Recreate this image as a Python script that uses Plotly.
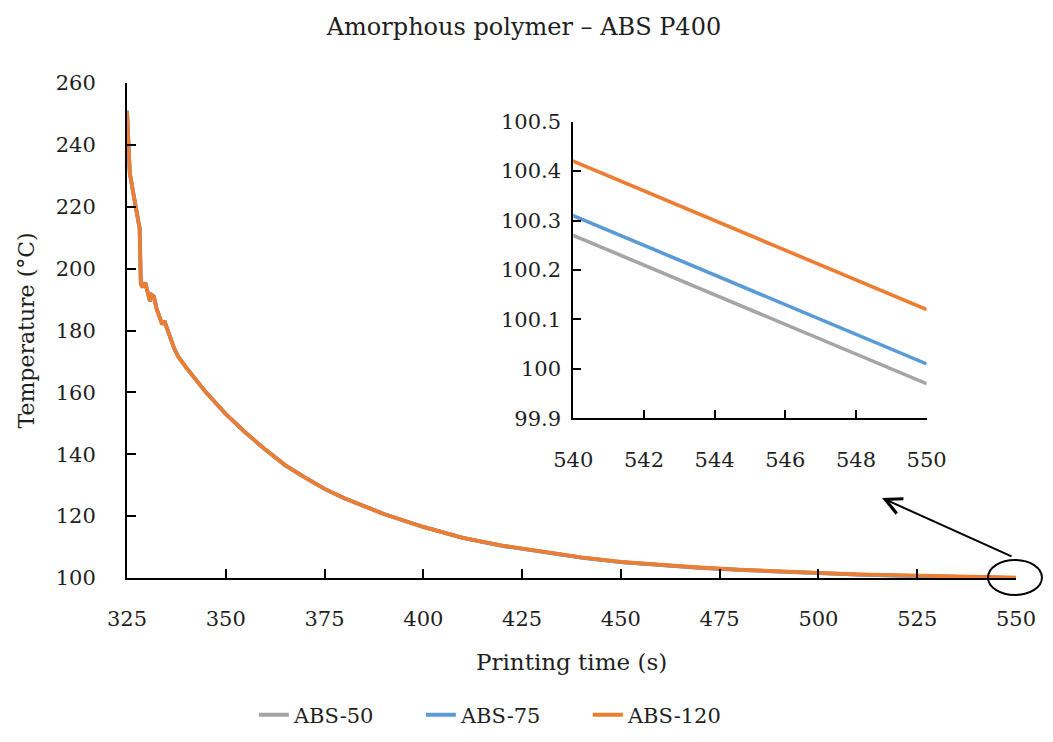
import plotly.graph_objects as go

# Printing time (s)
time_s = [325.0, 325.3, 325.7, 326.5, 327.5, 328.2, 328.5, 329.0, 329.6, 330.2,
          330.8, 331.3, 331.8, 332.5, 333.3, 333.9, 334.5, 335.0, 336.0, 337.0,
          338.0, 340.0, 342.0, 345.0, 350.0, 355.0, 360.0, 365.0, 370.0, 375.0,
          380.0, 390.0, 400.0, 410.0, 420.0, 430.0, 440.0, 450.0, 460.0, 470.0,
          480.0, 490.0, 500.0, 510.0, 520.0, 530.0, 540.0, 545.0, 550.0]

# Temperatures (°C)
abs_50 = [251.0, 243.0, 231.0, 225.0, 218.0, 213.0, 195.0, 194.0, 195.5, 192.0,
          189.5, 191.5, 191.0, 187.0, 184.0, 182.0, 183.0, 181.0, 177.5, 174.0,
          171.5, 168.0, 164.7, 160.0, 153.0, 147.0, 141.5, 136.5, 132.5, 128.8,
          125.8, 120.7, 116.5, 113.0, 110.4, 108.4, 106.6, 105.1, 104.1, 103.3,
          102.6, 102.0, 101.5, 101.1, 100.75, 100.5, 100.27, 100.12, 99.97]
abs_75 = [251.0, 243.0, 231.0, 225.0, 218.0, 213.0, 195.0, 194.0, 195.5, 192.0,
          189.5, 191.5, 191.0, 187.0, 184.0, 182.0, 183.0, 181.0, 177.5, 174.0,
          171.5, 168.0, 164.7, 160.0, 153.0, 147.0, 141.5, 136.5, 132.5, 128.8,
          125.8, 120.7, 116.5, 113.0, 110.4, 108.4, 106.6, 105.1, 104.1, 103.3,
          102.6, 102.0, 101.5, 101.1, 100.8, 100.55, 100.31, 100.16, 100.01]
abs_120 = [251.0, 243.0, 231.0, 225.0, 218.0, 213.0, 195.0, 194.0, 195.5, 192.0,
           189.5, 191.5, 191.0, 187.0, 184.0, 182.0, 183.0, 181.0, 177.5, 174.0,
           171.5, 168.0, 164.7, 160.0, 153.0, 147.0, 141.5, 136.5, 132.5, 128.8,
           125.8, 120.7, 116.5, 113.0, 110.5, 108.5, 106.7, 105.2, 104.2, 103.4,
           102.7, 102.1, 101.6, 101.2, 100.9, 100.65, 100.42, 100.27, 100.12]

series_names = ["ABS-50", "ABS-75", "ABS-120"]
series_colors = ["#A5A5A5", "#5B9BD5", "#ED7D31"]
series_values = [abs_50, abs_75, abs_120]

main_x_ticks = [325, 350, 375, 400, 425, 450, 475, 500, 525, 550]
main_y_ticks = [100, 120, 140, 160, 180, 200, 220, 240, 260]
inset_x_ticks = [540, 542, 544, 546, 548, 550]
inset_y_ticks = [99.9, 100.0, 100.1, 100.2, 100.3, 100.4, 100.5]
inset_y_labels = ["99.9", "100", "100.1", "100.2", "100.3", "100.4", "100.5"]

FONT = "DejaVu Serif"
TXT = "#1e1e1e"

fig = go.Figure()
for name, color, vals in zip(series_names, series_colors, series_values):
    fig.add_trace(go.Scatter(x=time_s, y=vals, mode="lines", name=name,
                             line=dict(color=color, width=3.8),
                             xaxis="x", yaxis="y"))
for name, color, vals in zip(series_names, series_colors, series_values):
    fig.add_trace(go.Scatter(x=time_s, y=vals, mode="lines", name=name,
                             line=dict(color=color, width=3.6), showlegend=False,
                             xaxis="x2", yaxis="y2"))

axis_common = dict(showgrid=False, zeroline=False, showline=True,
                   linecolor="black", linewidth=2, ticks="inside",
                   tickcolor="black", tickwidth=2, mirror=False,
                   tickfont=dict(family=FONT, size=21, color=TXT))

fig.update_layout(
    width=1053, height=742,
    margin=dict(l=127, r=37, t=83, b=164, autoexpand=False),
    paper_bgcolor="white", plot_bgcolor="white",
    showlegend=True,
    title=dict(text="Amorphous polymer – ABS P400", x=0.4976, xref="container",
               y=1 - 27 / 742, yref="container", xanchor="center", yanchor="middle",
               font=dict(family=FONT, size=24, color=TXT)),
    xaxis=dict(domain=[0, 1], range=[325, 550], tickvals=main_x_ticks,
               ticklen=9, ticklabelstandoff=21, anchor="y", **axis_common),
    yaxis=dict(domain=[0, 1], range=[100, 260], tickvals=main_y_ticks,
               ticklen=9, ticklabelstandoff=25, anchor="x", **axis_common),
    xaxis2=dict(domain=[0.502, 0.8995], range=[540, 550], tickvals=inset_x_ticks,
                ticklen=8, ticklabelstandoff=21, anchor="y2", **axis_common),
    yaxis2=dict(domain=[0.3226, 0.9218], range=[99.9, 100.5], tickvals=inset_y_ticks,
                ticktext=inset_y_labels, ticklen=8, ticklabelstandoff=6,
                anchor="x2", **axis_common),
    legend=dict(orientation="h", x=0.4245, xanchor="center", y=-0.277,
                yanchor="middle", entrywidth=122, entrywidthmode="pixels",
                font=dict(family=FONT, size=21, color=TXT),
                bgcolor="rgba(0,0,0,0)"),
    annotations=[
        dict(text="Printing time (s)", xref="paper", yref="paper", x=0.5, y=-0.1697,
             showarrow=False, xanchor="center", yanchor="middle",
             font=dict(family=FONT, size=23, color=TXT)),
        dict(text="Temperature (°C)", xref="paper", yref="paper", x=-0.1125, y=0.5,
             textangle=-90, showarrow=False, xanchor="center", yanchor="middle",
             font=dict(family=FONT, size=22, color=TXT)),
        dict(text="", xref="paper", yref="paper", x=0.8493, y=0.1616,
             ax=131, ay=59, showarrow=True, arrowhead=5, arrowsize=1.6,
             arrowwidth=2, arrowcolor="black"),
    ],
    shapes=[
        dict(type="circle", xref="paper", yref="paper", x0=0.9685, x1=1.0292,
             y0=-0.0343, y1=0.0364, line=dict(color="black", width=2)),
    ],
)

fig.write_html("out.html")
